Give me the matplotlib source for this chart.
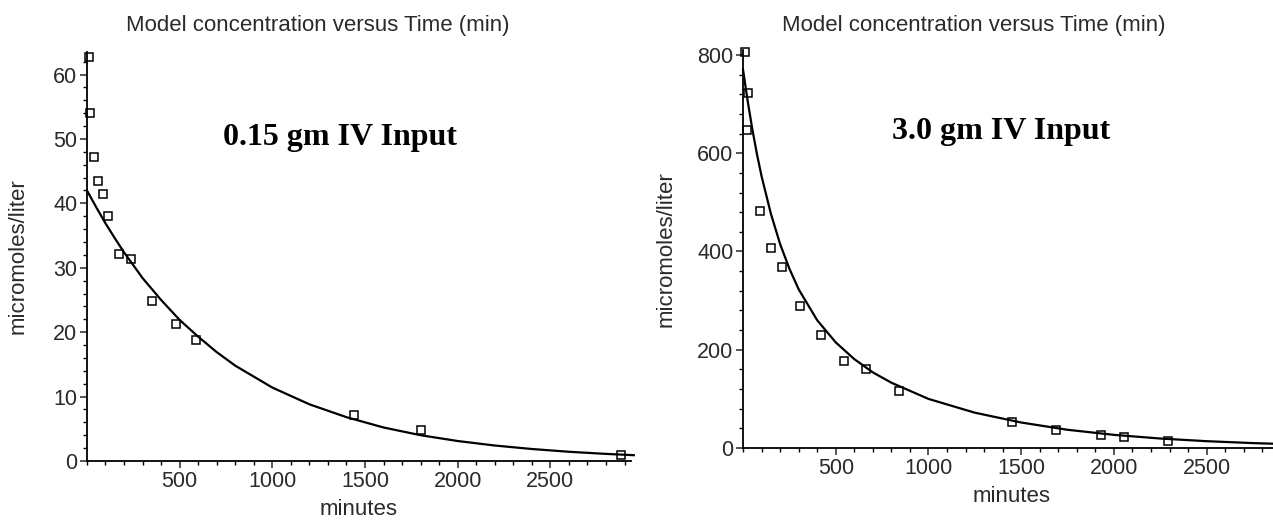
"""
Two panels: measured concentration (squares) and model curve versus time.
"""
import matplotlib.pyplot as plt
from matplotlib.ticker import MultipleLocator

# ---- 0.15 gm IV input ----
low_time = [12, 18, 36, 58, 85, 113, 171, 239, 350, 480, 590, 1440, 1800, 2880]
low_conc = [62.7, 54.1, 47.2, 43.5, 41.4, 38.1, 32.1, 31.4, 24.9, 21.3, 18.8, 7.15, 4.8, 0.9]
low_model_time = [0, 50, 100, 150, 200, 300, 400, 500, 600, 700, 800, 1000, 1200, 1400,
                  1600, 1800, 2000, 2200, 2400, 2600, 2800, 2950]
low_model_conc = [42.0, 39.4, 36.9, 34.6, 32.4, 28.4, 25.0, 21.9, 19.3, 16.9, 14.8, 11.4,
                  8.8, 6.8, 5.2, 4.0, 3.1, 2.4, 1.86, 1.43, 1.1, 0.9]

# ---- 3.0 gm IV input ----
high_time = [10, 25, 20, 90, 150, 210, 307, 420, 546, 661, 840, 1450, 1690, 1929, 2055,
             2292, 2885]
high_conc = [805, 722, 648, 483, 408, 368, 289, 231, 177, 160, 117, 52.5, 37.5, 27, 22.5,
             13.6, 7]
high_model_time = [0, 10, 25, 50, 75, 100, 150, 200, 250, 300, 400, 500, 600, 700, 800,
                   1000, 1250, 1500, 1750, 2000, 2250, 2500, 2750, 2950]
high_model_conc = [770, 744, 706, 649, 598, 553, 477, 415, 365, 323, 260, 215, 181, 154,
                   133, 100, 72, 52, 37.2, 26.9, 19.4, 14.0, 10.1, 7.8]

plt.rcParams['font.family'] = ['Liberation Sans', 'DejaVu Sans']

fig = plt.figure(figsize=(12.73, 5.21), dpi=100)


def style_axes(ax, ymax, xmax, ymajor, yminor):
    for side in ['top', 'right']:
        ax.spines[side].set_visible(False)
    ax.spines['left'].set_linewidth(1.3)
    ax.spines['bottom'].set_linewidth(1.3)
    ax.set_xlim(0, xmax)
    ax.set_ylim(0, ymax)
    ax.set_xticks([500, 1000, 1500, 2000, 2500])
    ax.xaxis.set_minor_locator(MultipleLocator(100))
    ax.yaxis.set_major_locator(MultipleLocator(ymajor))
    ax.yaxis.set_minor_locator(MultipleLocator(yminor))
    ax.tick_params(which='major', direction='out', length=5, width=1.1,
                   labelsize=15.5, colors='#2a2a2a', pad=2)
    ax.tick_params(which='minor', direction='out', length=3, width=1.0)
    ax.set_xlabel('minutes', fontsize=16, color='#2a2a2a', labelpad=5)
    ax.set_ylabel('micromoles/liter', fontsize=16, color='#2a2a2a')


ax1 = fig.add_axes([0.0683, 0.1152, 0.4274, 0.785])
ax1.plot(low_model_time, low_model_conc, color='black', lw=1.6, clip_on=False)
ax1.plot(low_time, low_conc, 's', mfc='none', mec='black', ms=5.5, mew=1.1, clip_on=False)
style_axes(ax1, 63.5, 2935, 10, 2)
ax1.yaxis.set_label_coords(-0.108, 0.5)

ax2 = fig.add_axes([0.5837, 0.140, 0.4224, 0.764])
ax2.plot(high_model_time, high_model_conc, color='black', lw=1.6, clip_on=False)
ax2.plot(high_time, high_conc, 's', mfc='none', mec='black', ms=5.5, mew=1.1, clip_on=False)
style_axes(ax2, 810, 2900, 200, 40)
ax2.yaxis.set_label_coords(-0.123, 0.5)

fig.text(318 / 1273, 1 - 25 / 521, 'Model concentration versus Time (min)',
         ha='center', va='center', fontsize=16, color='#2a2a2a')
fig.text(974 / 1273, 1 - 25 / 521, 'Model concentration versus Time (min)',
         ha='center', va='center', fontsize=16, color='#2a2a2a')
fig.text(340 / 1273, 1 - 137 / 521, '0.15 gm IV Input', ha='center', va='center',
         fontsize=23, fontweight='bold', family='Liberation Serif')
fig.text(1001 / 1273, 1 - 131 / 521, '3.0 gm IV Input', ha='center', va='center',
         fontsize=23, fontweight='bold', family='Liberation Serif')

fig.savefig('out.png', dpi=100, facecolor='white')
